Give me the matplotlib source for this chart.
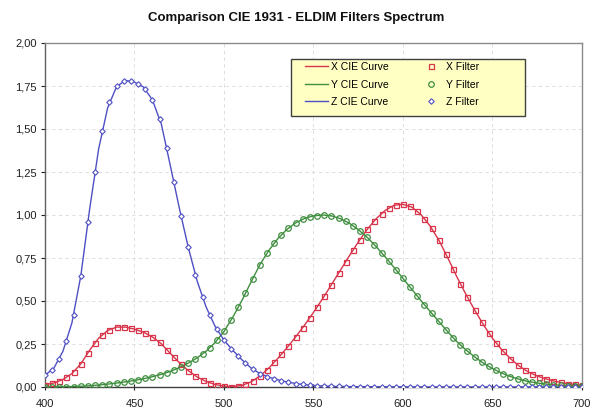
import matplotlib
matplotlib.use("Agg")
import matplotlib.pyplot as plt
from matplotlib.ticker import FuncFormatter, MultipleLocator
from matplotlib.patches import Rectangle

plt.rcParams['font.family'] = ['Liberation Sans', 'DejaVu Sans']

# CIE 1931 colour matching functions (5 nm)
cie_wl = list(range(400, 705, 5))
cie_x = [0.0143, 0.0232, 0.0435, 0.0776, 0.1344, 0.2148, 0.2839, 0.3285, 0.3483, 0.3481,
         0.3362, 0.3187, 0.2908, 0.2511, 0.1954, 0.1421, 0.0956, 0.0580, 0.0320, 0.0147,
         0.0049, 0.0024, 0.0093, 0.0291, 0.0633, 0.1096, 0.1655, 0.2258, 0.2904, 0.3597,
         0.4335, 0.5121, 0.5945, 0.6784, 0.7621, 0.8425, 0.9163, 0.9786, 1.0263, 1.0567,
         1.0622, 1.0456, 1.0026, 0.9384, 0.8545, 0.7514, 0.6424, 0.5419, 0.4479, 0.3608,
         0.2835, 0.2187, 0.1649, 0.1212, 0.0874, 0.0636, 0.0468, 0.0329, 0.0227, 0.0158,
         0.0114]
cie_y = [0.0004, 0.00064, 0.0012, 0.0022, 0.0040, 0.0073, 0.0116, 0.0168, 0.0230, 0.0298,
         0.0380, 0.0480, 0.0600, 0.0739, 0.0910, 0.1126, 0.1390, 0.1693, 0.2080, 0.2586,
         0.3230, 0.4073, 0.5030, 0.6082, 0.7100, 0.7932, 0.8620, 0.9149, 0.9540, 0.9803,
         0.9950, 1.0000, 0.9950, 0.9786, 0.9520, 0.9154, 0.8700, 0.8163, 0.7570, 0.6949,
         0.6310, 0.5668, 0.5030, 0.4412, 0.3810, 0.3210, 0.2650, 0.2170, 0.1750, 0.1382,
         0.1070, 0.0816, 0.0610, 0.0446, 0.0320, 0.0232, 0.0170, 0.0119, 0.0082, 0.0057,
         0.0041]
cie_z = [0.0679, 0.1102, 0.2074, 0.3713, 0.6456, 1.0391, 1.3856, 1.6230, 1.7471, 1.7826,
         1.7721, 1.7441, 1.6692, 1.5281, 1.2876, 1.0419, 0.8130, 0.6162, 0.4652, 0.3533,
         0.2720, 0.2123, 0.1582, 0.1117, 0.0783, 0.0573, 0.0422, 0.0298, 0.0203, 0.0134,
         0.0088, 0.0058, 0.0039, 0.0028, 0.0021, 0.0018, 0.0017, 0.0014, 0.0011, 0.0010,
         0.0008, 0.0006, 0.0003, 0.0002, 0.0002, 0.0001, 0.0001, 0.0, 0.0, 0.0,
         0.0, 0.0, 0.0, 0.0, 0.0, 0.0, 0.0, 0.0, 0.0, 0.0,
         0.0]

# ELDIM filter measurements (4 nm)
flt_wl = list(range(400, 704, 4))
flt_x = [0.0143, 0.0210, 0.0340, 0.0560, 0.0880, 0.1344, 0.1980, 0.2570, 0.3030, 0.3340,
         0.3483, 0.3490, 0.3420, 0.3292, 0.3131, 0.2908, 0.2595, 0.2180, 0.1741, 0.1328,
         0.0956, 0.0650, 0.0420, 0.0250, 0.0125, 0.0049, 0.0027, 0.0060, 0.0165, 0.0350,
         0.0633, 0.0998, 0.1425, 0.1893, 0.2385, 0.2904, 0.3455, 0.4035, 0.4645, 0.5280,
         0.5945, 0.6616, 0.7286, 0.7943, 0.8573, 0.9163, 0.9670, 1.0080, 1.0400, 1.0595,
         1.0622, 1.0500, 1.0210, 0.9780, 0.9220, 0.8545, 0.7720, 0.6860, 0.6010, 0.5230,
         0.4479, 0.3775, 0.3140, 0.2570, 0.2075, 0.1649, 0.1295, 0.1005, 0.0777, 0.0601,
         0.0468, 0.0355, 0.0267, 0.0198, 0.0149, 0.0114]
flt_y = [0.0004, 0.0006, 0.0010, 0.0016, 0.0025, 0.0040, 0.0066, 0.0099, 0.0137, 0.0180,
         0.0230, 0.0284, 0.0347, 0.0420, 0.0504, 0.0600, 0.0711, 0.0841, 0.0996, 0.1179,
         0.1390, 0.1632, 0.1925, 0.2280, 0.2715, 0.3230, 0.3904, 0.4647, 0.5451, 0.6286,
         0.7100, 0.7766, 0.8345, 0.8834, 0.9227, 0.9540, 0.9750, 0.9891, 0.9970, 0.9990,
         0.9950, 0.9819, 0.9626, 0.9374, 0.9063, 0.8700, 0.8270, 0.7807, 0.7322, 0.6821,
         0.6310, 0.5796, 0.5285, 0.4783, 0.4292, 0.3810, 0.3330, 0.2874, 0.2458, 0.2086,
         0.1750, 0.1455, 0.1195, 0.0968, 0.0775, 0.0610, 0.0479, 0.0370, 0.0285, 0.0220,
         0.0170, 0.0129, 0.0097, 0.0072, 0.0054, 0.0041]
flt_z = [0.0679, 0.0990, 0.1650, 0.2680, 0.4200, 0.6456, 0.9580, 1.2500, 1.4880, 1.6550,
         1.7471, 1.7790, 1.7780, 1.7620, 1.7320, 1.6692, 1.5600, 1.3880, 1.1893, 0.9950,
         0.8130, 0.6520, 0.5230, 0.4180, 0.3360, 0.2720, 0.2230, 0.1790, 0.1390, 0.1040,
         0.0783, 0.0610, 0.0480, 0.0370, 0.0280, 0.0203, 0.0146, 0.0105, 0.0076, 0.0054,
         0.0039, 0.0030, 0.0024, 0.0020, 0.0018, 0.0017, 0.0015, 0.0012, 0.0011, 0.0010,
         0.0008, 0.0006, 0.0004, 0.0003, 0.0002, 0.0002, 0.0001, 0.0001, 0.0, 0.0,
         0.0, 0.0, 0.0, 0.0, 0.0, 0.0, 0.0, 0.0, 0.0, 0.0,
         0.0, 0.0, 0.0, 0.0, 0.0, 0.0]

title = "Comparison CIE 1931 - ELDIM Filters Spectrum"
red, green, blue = "#D8344A", "#3E8E3E", "#4F4FC4"

W, H = 593, 412
fig = plt.figure(figsize=(W / 100, H / 100), dpi=100)
ax_l, ax_b, ax_w, ax_h = 45, 25, 537, 344
ax = fig.add_axes([ax_l / W, ax_b / H, ax_w / W, ax_h / H])

ax.plot(cie_wl, cie_x, color=red, lw=1.0, label="X CIE Curve", zorder=3)
ax.plot(cie_wl, cie_y, color=green, lw=1.0, label="Y CIE Curve", zorder=3)
ax.plot(cie_wl, cie_z, color=blue, lw=1.0, label="Z CIE Curve", zorder=3)
ax.plot(flt_wl, flt_x, ls='none', marker='s', ms=3.6, mfc='none', mec=red, mew=0.9,
        label="X Filter", zorder=4)
ax.plot(flt_wl, flt_y, ls='none', marker='o', ms=4.0, mfc='none', mec=green, mew=0.9,
        label="Y Filter", zorder=4)
ax.plot(flt_wl, flt_z, ls='none', marker='D', ms=2.8, mfc='white', mec=blue, mew=0.8,
        label="Z Filter", zorder=4)

ax.set_xlim(400, 700)
ax.set_ylim(0, 2.0)
ax.xaxis.set_major_locator(MultipleLocator(50))
ax.yaxis.set_major_locator(MultipleLocator(0.25))
ax.yaxis.set_major_formatter(FuncFormatter(lambda v, p: f"{v:.2f}".replace('.', ',')))
ax.grid(True, color='#D9D9D9', ls=(0, (4, 4)), lw=0.6)
ax.set_axisbelow(True)
for s in ax.spines.values():
    s.set_color('#8A8A8A')
    s.set_linewidth(1.0)
ax.spines['left'].set_color('#606060')
ax.spines['bottom'].set_color('#404040')
ax.tick_params(axis='both', labelsize=8, colors='#202020', length=3, width=0.8)
ax.tick_params(axis='x', direction='inout', length=5, pad=6)
ax.tick_params(axis='y', direction='out', pad=3)

# legend box (pixel geometry of the reference)
def ax_xy(px, py):
    return (px - ax_l) / ax_w, (H - ax_b - py) / ax_h

bx0, by0 = ax_xy(291, 116)
bx1, by1 = ax_xy(525, 59)
ax.add_patch(Rectangle((bx0, by0), bx1 - bx0, by1 - by0, transform=ax.transAxes,
                       facecolor='#FFFFC4', edgecolor='#404040', lw=1.0, zorder=6))

lx, ly = ax_xy(305, 62)
leg = ax.legend(ncol=2, loc='upper left', bbox_to_anchor=(lx, ly),
                fontsize=7.5, frameon=False, handlelength=2.2, borderpad=0,
                handletextpad=0.3, columnspacing=3.0, labelspacing=0.72,
                borderaxespad=0)
leg.set_zorder(7)

fig.text(0.5, 1 - 18 / H, title, ha='center', va='center', fontsize=9.5,
         fontweight='bold', color='#101010')

fig.savefig("out.png", dpi=100, facecolor='white')
